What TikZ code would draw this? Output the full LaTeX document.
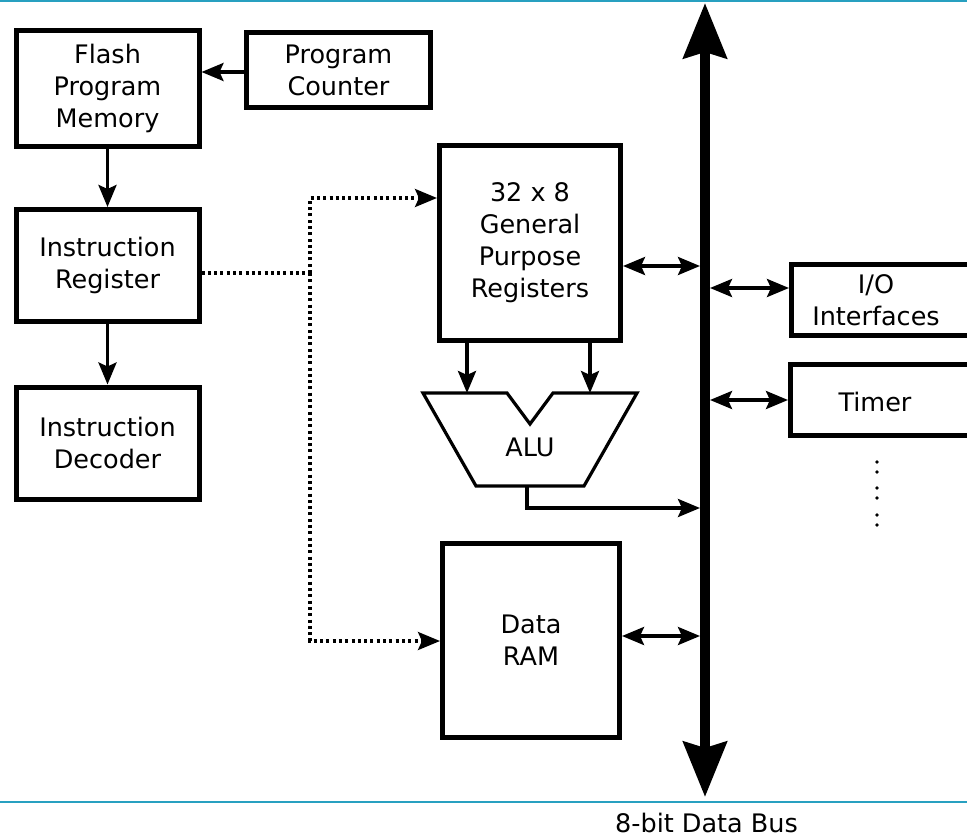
\documentclass[tikz,border=0pt]{standalone}
\usepackage{fontspec}
\setmainfont{DejaVu Sans}
\usetikzlibrary{arrows.meta,calc}
\definecolor{rulecol}{RGB}{40,160,192}
\begin{document}
\begin{tikzpicture}[x=1pt,y=-1pt,
  box/.style={draw, line width=5pt, align=center, inner sep=0pt,
    font=\fontsize{25.5}{32}\selectfont},
  lbl/.style={align=center, inner sep=0pt, font=\fontsize{25.5}{32}\selectfont},
  arr/.style={line width=3.5pt, -{Stealth[length=22pt,width=18pt,inset=4pt]}},
  darr/.style={line width=3.5pt, {Stealth[length=22pt,width=18pt,inset=4pt]}-{Stealth[length=22pt,width=18pt,inset=4pt]}},
  dotarr/.style={line width=3.2pt, dash pattern=on 3pt off 3.3pt, -{Stealth[length=22pt,width=18pt,inset=4pt]}},
  buscol/.style={line width=10pt, {Stealth[length=55pt,width=43pt,inset=6pt]}-{Stealth[length=55pt,width=43pt,inset=6pt]}}
]
\useasboundingbox (0,0) rectangle (967,838);
\clip (0,0) rectangle (967,838);
\fill[white] (0,0) rectangle (967,838);

% rules
\draw[rulecol, line width=2pt] (0,1) -- (967,1);
\draw[rulecol, line width=2pt] (0,802) -- (967,802);

% left column
\node[box, minimum width=183pt, minimum height=116pt] (flash) at (107.5,88.5) {Flash\\Program\\Memory};
\node[box, minimum width=184pt, minimum height=75pt] (pc) at (338.5,70) {Program\\Counter};
\node[box, minimum width=183pt, minimum height=112pt] (ir) at (107.5,265.5) {Instruction\\Register};
\node[box, minimum width=183pt, minimum height=112pt] (id) at (107.5,443) {Instruction\\Decoder};

\draw[arr] (pc.west |- 0,72) -- (flash.east |- 0,72);
\draw[arr] (flash.south) -- (ir.north);
\draw[arr] (ir.south) -- (id.north);

% registers, RAM
\node[box, minimum width=181pt, minimum height=195pt] (gpr) at (530,243) {32 x 8\\General\\Purpose\\Registers};
\node[box, minimum width=177pt, minimum height=194pt] (ram) at (531,640.5) {Data\\RAM};

% ALU
\coordinate (alutl) at (423,393);
\coordinate (alutr) at (637,393);
\draw[line width=3.2pt, line join=miter] (alutl) -- (507,393) -- (530,424) -- (553,393) -- (alutr) -- (584,486) -- (476,486) -- cycle;
\node[lbl] (alu) at (530,447) {ALU};
\coordinate (aluout) at (527,486);
\coordinate (aluinA) at (467,393);
\coordinate (aluinB) at (590,393);

\draw[arr] (aluinA |- gpr.south) -- (aluinA);
\draw[arr] (aluinB |- gpr.south) -- (aluinB);

% data bus
\coordinate (bustop) at (705,3);
\coordinate (busbot) at (705,797);
\draw[buscol] (busbot) -- (bustop);
\node[lbl] (buslbl) at (706.5,823) {8-bit Data Bus};

\draw[arr] (aluout) -- (527,508) -- (700,508);

\draw[darr] (gpr.east |- 0,266) -- (700,266);
\draw[darr] (ram.east |- 0,636) -- (700,636);

% peripherals
\node[box, minimum width=200pt, minimum height=71pt] (io) at (891.5,300) {};
\node[lbl] (iolbl) at (876,300) {I/O\\Interfaces};
\node[box, minimum width=200pt, minimum height=71pt] (timer) at (890.5,400) {};
\node[lbl] (timerlbl) at (875,402) {Timer};

\draw[darr] (710,288) -- (io.west |- 0,288);
\draw[darr] (710,400) -- (timer.west |- 0,400);

% ellipsis dots
\foreach \yy in {462,472,488,498,515,525} \fill (877,\yy) circle (1.8pt);

% dotted control lines
\coordinate (irout) at (ir.east |- 0,273);
\coordinate (split) at (310,273);
\draw[line width=3.2pt, dash pattern=on 3pt off 3.3pt] (irout) -- (split);
\draw[dotarr] (split) -- (310,198) -- (gpr.west |- 0,198);
\draw[dotarr] (split) -- (310,641) -- (ram.west |- 0,641);
\end{tikzpicture}
\end{document}
